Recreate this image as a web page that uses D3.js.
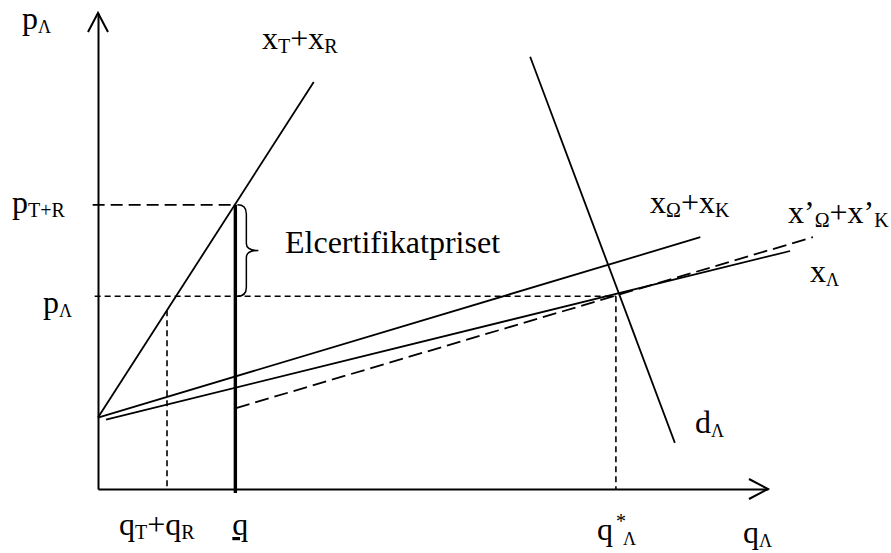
<!DOCTYPE html>
<html>
<head>
<meta charset="utf-8">
<script src="https://cdn.jsdelivr.net/npm/d3@7"></script>
<style>
  html, body { margin: 0; padding: 0; background: #fff; }
  svg { display: block; }
  text { font-family: "Liberation Serif", "Times New Roman", serif; fill: #000; }
</style>
</head>
<body>
<svg id="chart" width="891" height="553"></svg>
<script>
// ---- data (diagram units) ----
const supplyTR  = [[0, 15], [32.2, 85.5]];     // x_T + x_R
const supplyOK  = [[0, 15], [89.9, 52.9]];     // x_Ω + x_K
const supplyL   = [[1.2, 14.6], [103.3, 50]];  // x_Λ
const supplyOKp = [[20.6, 17.0], [106.7, 52.9]]; // x'_Ω + x'_K (dashed)
const demand    = [[64.5, 90.8], [86.1, 9.7]]; // d_Λ
const pTR = 59.7;   // p_T+R
const pL = 40.5;    // p_Λ
const qTR = 10.3;   // q_T + q_R
const qBar = 20.5;  // q (quota)
const qStar = 77.3; // q*_Λ
const axisMax = 100;

// ---- scales ----
const svg = d3.select("#chart");
const x = d3.scaleLinear().domain([0, 100]).range([98, 768]);
const y = d3.scaleLinear().domain([0, 100]).range([489, 13]);
const line = d3.line().x(d => x(d[0])).y(d => y(d[1]));

// ---- axes ----
svg.append("g").attr("transform", `translate(0,${y(0)})`)
  .call(d3.axisBottom(x).tickValues([]).tickSizeOuter(0))
  .call(g => g.select(".domain").attr("stroke", "#000").attr("stroke-width", 2));
svg.append("g").attr("transform", `translate(${x(0)},0)`)
  .call(d3.axisLeft(y).tickValues([]).tickSizeOuter(0))
  .call(g => g.select(".domain").attr("stroke", "#000").attr("stroke-width", 2));
// arrow heads
svg.append("path")
  .attr("d", `M${x(axisMax) - 19},${y(0) - 10} L${x(axisMax)},${y(0)} L${x(axisMax) - 19},${y(0) + 10}`)
  .attr("fill", "none").attr("stroke", "#000").attr("stroke-width", 2);
svg.append("path")
  .attr("d", `M${x(0) - 10},${y(axisMax) + 19} L${x(0)},${y(axisMax)} L${x(0) + 10},${y(axisMax) + 19}`)
  .attr("fill", "none").attr("stroke", "#000").attr("stroke-width", 2);

// ---- guide dashed lines ----
const dashShort = "6,4";
const dashLong = "12,6";
function seg(p, dash, w) {
  svg.append("path").attr("d", line(p)).attr("fill", "none")
    .attr("stroke", "#000").attr("stroke-width", w || 1.6)
    .attr("stroke-dasharray", dash || null);
}
const trSlope = (supplyTR[1][1] - supplyTR[0][1]) / (supplyTR[1][0] - supplyTR[0][0]);
seg([[-0.8, pTR], [qBar, pTR]], dashLong);
seg([[-0.5, pL], [qStar, pL]], dashShort);
seg([[qTR, supplyTR[0][1] + trSlope * qTR], [qTR, 0]], dashShort);
seg([[qStar, pL], [qStar, 0]], dashShort);

// ---- curves ----
seg(supplyTR, null, 1.8);
seg(supplyOK, null, 1.8);
seg(supplyL, null, 1.8);
seg(supplyOKp, "14,6", 1.8);
seg(demand, null, 1.8);

// thick quota line
svg.append("line")
  .attr("x1", x(qBar)).attr("x2", x(qBar))
  .attr("y1", y(pTR)).attr("y2", y(0) + 4)
  .attr("stroke", "#000").attr("stroke-width", 3.4);

// brace (Elcertifikatpriset)
{
  const bx = x(qBar) + 2, top = y(pTR), bot = y(pL), mid = (top + bot) / 2;
  const bw = 9, tip = 21;
  svg.append("path")
    .attr("d", `M${bx},${top} Q${bx + bw},${top} ${bx + bw},${top + 9}
                L${bx + bw},${mid - 7} Q${bx + bw},${mid} ${bx + tip},${mid}
                Q${bx + bw},${mid} ${bx + bw},${mid + 7}
                L${bx + bw},${bot - 9} Q${bx + bw},${bot} ${bx},${bot}`)
    .attr("fill", "none").attr("stroke", "#000").attr("stroke-width", 1.5);
}

// ---- labels ----
const MAIN = 32, SUB = 20, LAM = 18;
function label(px, py, parts) {
  const t = svg.append("text").attr("x", px).attr("y", py).attr("font-size", MAIN);
  let shift = 0;
  parts.forEach(([s, kind]) => {
    const target = kind === "m" ? 0 : 4;
    const size = kind === "m" ? MAIN : (kind === "L" ? LAM : SUB);
    t.append("tspan").attr("dy", target - shift).attr("font-size", size).text(s);
    shift = target;
  });
  return t;
}
label(22, 29, [["p", "m"], ["Λ", "L"]]);
label(262, 49, [["x", "m"], ["T", "s"], ["+", "m"], ["x", "m"], ["R", "s"]]);
label(12, y(pTR) + 8, [["p", "m"], ["T+R", "s"]]);
label(43, y(pL) + 17, [["p", "m"], ["Λ", "L"]]);
svg.append("text").attr("x", 285).attr("y", 253).attr("font-size", MAIN).text("Elcertifikatpriset");
label(650, 213, [["x", "m"], ["Ω", "s"], ["+", "m"], ["x", "m"], ["K", "s"]]);
label(788, 223, [["x", "m"], ["’", "m"], ["Ω", "s"], ["+", "m"], ["x", "m"], ["’", "m"], ["K", "s"]]);
label(810, 282, [["x", "m"], ["Λ", "L"]]);
label(695, 433, [["d", "m"], ["Λ", "L"]]);
label(743, 543, [["q", "m"], ["Λ", "L"]]);
label(x(qTR) - 48, 535, [["q", "m"], ["T", "s"], ["+", "m"], ["q", "m"], ["R", "s"]]);
svg.append("text").attr("x", x(qBar) - 3).attr("y", 535).attr("font-size", MAIN)
  .attr("text-decoration", "underline").text("q");
// q*_Λ
{
  const t = svg.append("text").attr("font-size", MAIN);
  t.append("tspan").attr("x", x(qStar) - 19).attr("y", 540).text("q");
  t.append("tspan").attr("x", x(qStar) + 0).attr("y", 528).attr("font-size", SUB).text("*");
  t.append("tspan").attr("x", x(qStar) + 7).attr("y", 545).attr("font-size", LAM).text("Λ");
}
</script>
</body>
</html>
